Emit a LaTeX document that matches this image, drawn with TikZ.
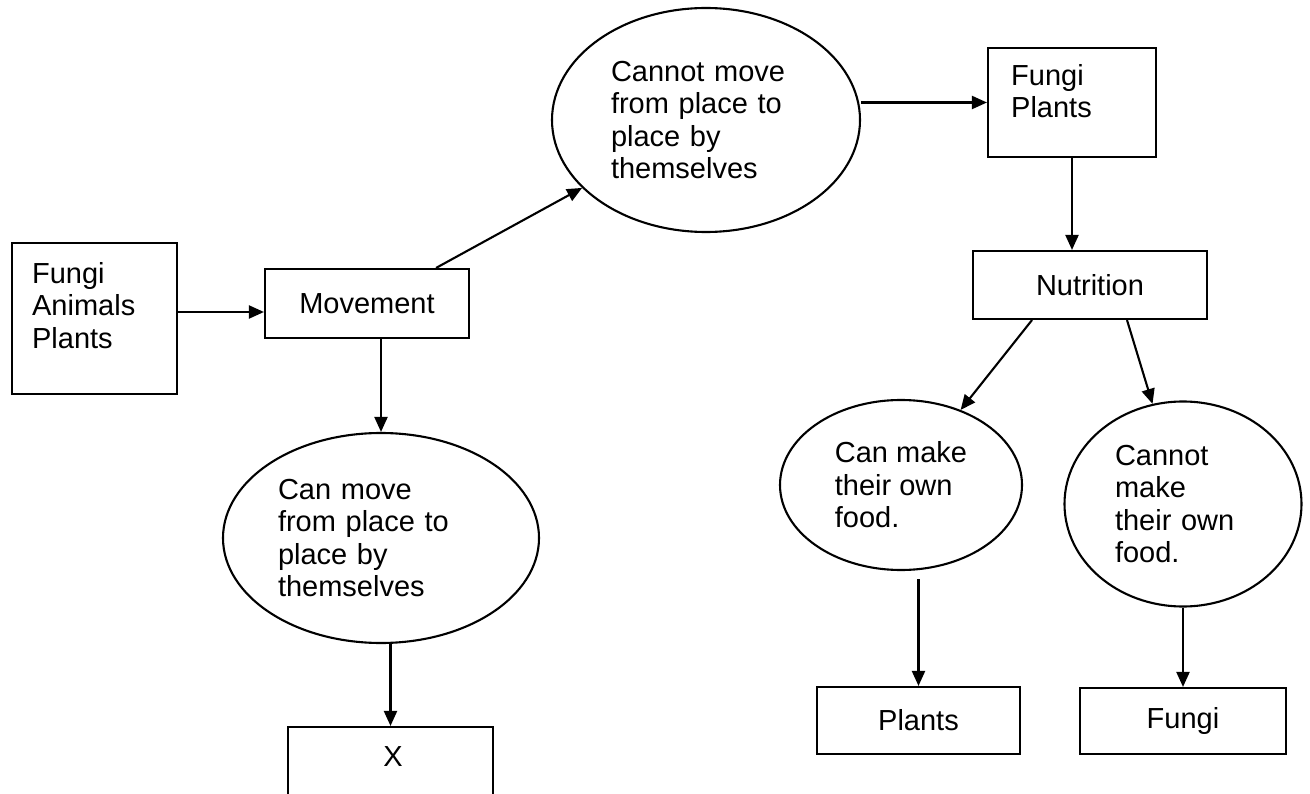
\documentclass[tikz,border=0pt]{standalone}
\usepackage{fontspec}
\setmainfont{Liberation Sans}
\usetikzlibrary{shapes.geometric,arrows.meta,calc}
\tikzset{
  txt/.style={font=\fontsize{29}{32.5}\selectfont, align=left, inner sep=0pt},
  box/.style={draw, rectangle, line width=2.1pt, inner sep=0pt, txt},
  oval/.style={draw, ellipse, line width=2.1pt, inner sep=0pt, txt},
  arr/.style={line width=2.1pt, -{Triangle[length=15pt,width=13pt]}}
}
\begin{document}
\begin{tikzpicture}[x=1pt,y=-1pt]
\useasboundingbox (0,0) rectangle (1310,794);
\clip (0,0) rectangle (1310,794);
% boxes
\node[box, minimum width=165pt, minimum height=151pt] (b1) at (94.5,318.5) {};
\node[txt, anchor=north west] (b1t) at ($(b1.north west)+(21,20)$) {Fungi\\Animals\\Plants};
\node[box, minimum width=204pt, minimum height=69pt] (mov) at (367,303.5) {Movement};
\node[box, minimum width=168pt, minimum height=109pt] (fp) at (1072,102.5) {};
\node[txt, anchor=north west] (fpt) at ($(fp.north west)+(24,17)$) {Fungi\\Plants};
\node[box, minimum width=234pt, minimum height=68pt] (nut) at (1090,285) {Nutrition};
\node[box, minimum width=203pt, minimum height=67pt] (pl) at (918.5,720.5) {Plants};
\node[box, minimum width=206pt, minimum height=66pt] (fu) at (1183,721) {Fungi};
\node[box, minimum width=205pt, minimum height=75pt] (xb) at (390.5,764.5) {};
\node[txt] (xt) at (393,757) {X};
% ellipses
\node[oval, minimum width=308pt, minimum height=224pt, text width=190pt] (cm) at (706,120)
  {Cannot move\\from place to\\place by\\themselves};
\node[oval, minimum width=316pt, minimum height=210pt, text width=206pt] (cmv) at (381,538)
  {Can move\\from place to\\place by\\themselves};
\node[oval, minimum width=242pt, minimum height=170pt] (mk) at (901,485)
  {Can make\\their own\\food.};
\node[oval, minimum width=237pt, minimum height=205pt, text width=136pt] (nmk) at (1183,504)
  {Cannot\\make\\their own\\food.};
% connectors
\coordinate (a1) at ($(b1.east)+(0,-6.5)$);
\draw[arr] (a1) -- (a1 -| mov.west);
\draw[arr] ([xshift=-34pt]mov.north east) -- (cm);
\draw[arr] (fp.west -| cm.east) -- (fp.west);
\draw[arr] (mov.south -| cmv.north) -- (cmv.north);
\draw[arr] (cmv.south -| xb.north) -- (xb.north);
\draw[arr] (fp.south) -- (fp.south |- nut.north);
\draw[arr] ([xshift=-58pt]nut.south) -- (mk);
\draw[arr] ([xshift=37pt]nut.south) -- (nmk);
\draw[arr, shorten <=8pt] (pl.north |- mk.south) -- (pl.north);
\draw[arr] (nmk.south) -- (fu.north);
\end{tikzpicture}
\end{document}
